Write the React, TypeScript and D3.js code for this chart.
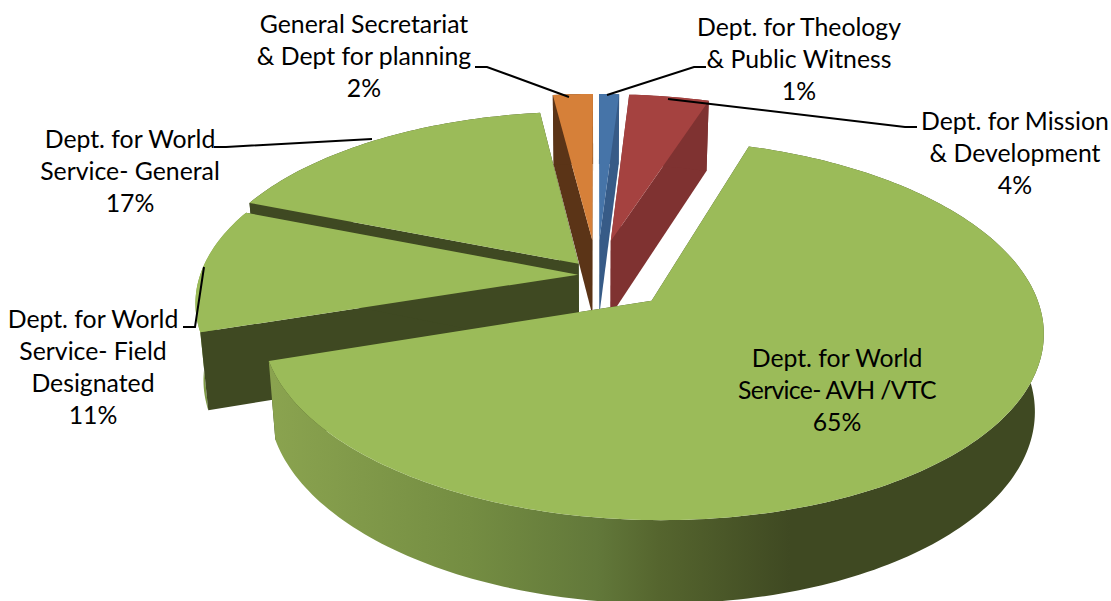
import React from "react";
import * as d3 from "d3";

const categories = ["Dept. for Theology & Public Witness","Dept. for Mission & Development","Dept. for World Service- AVH /VTC","Dept. for World Service- Field Designated","Dept. for World Service- General","General Secretariat & Dept for planning"];
const shares = [1, 4, 65, 11, 17, 2];
const explode = [0.2, 0.2, 0.2, 0.05, 0.08, 0.2];
const topColors = ["#4674a8", "#a54240", "#9bbb59", "#9bbb59", "#9bbb59", "#d68039"];
const wallColors = ["#375b87", "#7f3231", "#3f4922", "#3f4922", "#3f4922", "#5b3417"];
const labelLines = [
  ["Dept. for Theology", "& Public Witness", "1%"],
  ["Dept. for Mission", "& Development", "4%"],
  ["Dept. for World", "Service- AVH /VTC", "65%"],
  ["Dept. for World", "Service- Field", "Designated", "11%"],
  ["Dept. for World", "Service- General", "17%"],
  ["General Secretariat", "& Dept for planning", "2%"],
];
const labelPos: [number, number][] = [[799, 36], [1015, 130], [837, 367], [93, 328], [130, 148], [364, 33]];
const leaders: [number, number][][] = [
  [[607, 95], [694, 67], [706, 67]],
  [[668, 99], [905, 127], [917, 127]],
  [],
  [[204, 267], [195, 327], [183, 327]],
  [[372, 139], [226, 147], [214, 147]],
  [[569, 97], [487, 67], [475, 67]],
];
const drawOrder = [4, 3, 5, 0, 1, 2];
const radialOverRim = [false, false, false, true, false, false];

const CX = 597, CY = 275, RX = 378, RY = 178, K = 0.15, H = 76;

type Pt = [number, number];
const project = (u: number, v: number, down: boolean): Pt => {
  const s = 1 / (1 + K * v);
  const x = RX * u * s;
  const y = -RY * v * s;
  if (!down) return [CX + x, CY + y];
  return [CX + x * 0.98, CY + y + H * Math.sqrt(s)];
};
const toPath = (pts: Pt[]) => d3.line()(pts) + "Z";

const arcs = d3.pie<number>().sort(null).value((d) => d)(shares);

export default function App() {
  const faces = drawOrder.map((i) => {
    const a = arcs[i];
    const mid = (a.startAngle + a.endAngle) / 2;
    const ox = explode[i] * Math.sin(mid);
    const oy = explode[i] * Math.cos(mid);
    const steps = Math.max(2, Math.ceil((a.endAngle - a.startAngle) / 0.02));
    const angles = d3.range(steps + 1).map((t) => a.startAngle + ((a.endAngle - a.startAngle) * t) / steps);
    const rim = (down: boolean) => angles.map((t) => project(ox + Math.sin(t), oy + Math.cos(t), down));
    const apexT = project(ox, oy, false);
    const apexB = project(ox, oy, true);
    const rimT = rim(false);
    const rimB = rim(true);
    const rimWall = (
      <path d={toPath([...rimT, ...[...rimB].reverse()])} fill={i === 2 ? "url(#bigWall)" : i === 3 ? "#7e9a45" : wallColors[i]} />
    );
    const radial = (
      <>
        <path d={toPath([apexT, rimT[0], rimB[0], apexB])} fill={wallColors[i]} />
        <path d={toPath([apexT, rimT[rimT.length - 1], rimB[rimB.length - 1], apexB])} fill={wallColors[i]} />
      </>
    );
    return (
      <g key={categories[i]}>
        {radialOverRim[i] ? rimWall : radial}
        {radialOverRim[i] ? radial : rimWall}
        <path d={toPath([apexT, ...rimT])} fill={topColors[i]} />
      </g>
    );
  });
  return (
    <svg width={1111} height={601} style={{ position: "absolute", left: 0, top: 0, background: "#fff" }}>
      <defs>
        <linearGradient id="bigWall" gradientUnits="userSpaceOnUse" x1={273} x2={1045} y1={0} y2={0}>
          <stop offset="0" stopColor="#8aa34f" />
          <stop offset="0.255" stopColor="#748d42" />
          <stop offset="0.42" stopColor="#62783a" />
          <stop offset="0.5" stopColor="#55652e" />
          <stop offset="0.67" stopColor="#3f4922" />
          <stop offset="1" stopColor="#3f4922" />
        </linearGradient>
      </defs>
      {faces}
      {leaders.map((l, i) =>
        l.length ? <path key={i} d={d3.line()(l) as string} fill="none" stroke="#000" strokeWidth={2} /> : null
      )}
      {labelLines.map((lines, i) =>
        lines.map((t, j) => (
          <text
            key={`${i}-${j}`}
            x={labelPos[i][0]}
            y={labelPos[i][1] + j * 32}
            fontFamily="Lato"
            fontSize={24.8}
            fill="#000"
            textAnchor="middle"
            letterSpacing={t.includes("AVH") ? -0.7 : 0}
          >
            {t}
          </text>
        ))
      )}
    </svg>
  );
}
